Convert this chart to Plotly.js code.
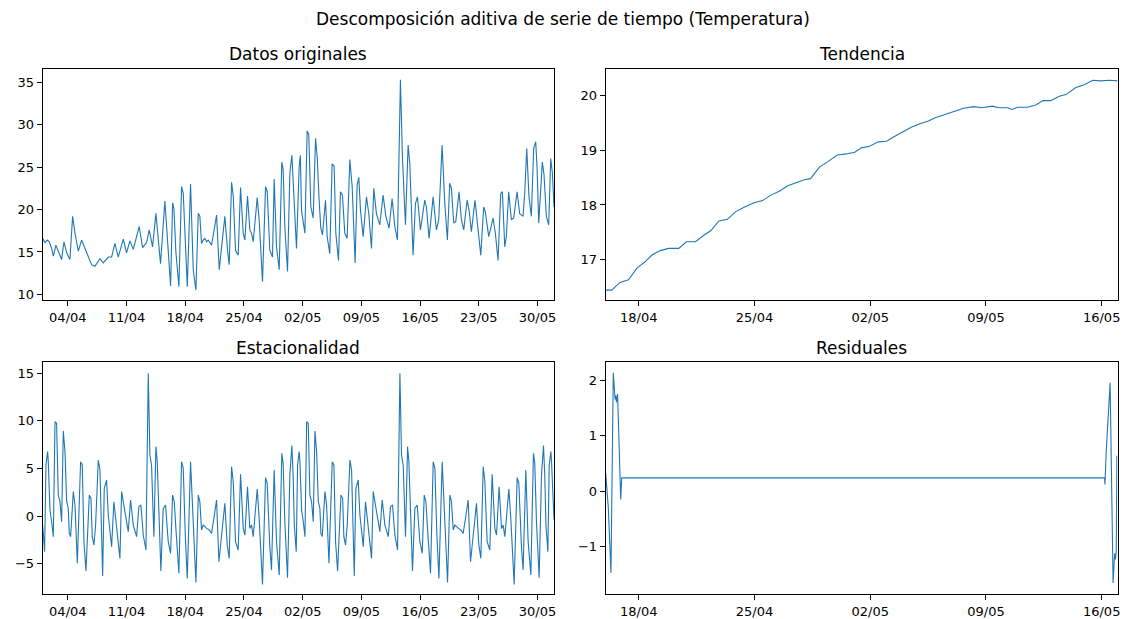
<!DOCTYPE html>
<html>
<head>
<meta charset="utf-8">
<script src="https://cdn.plot.ly/plotly-3.0.1.min.js"></script>
<style>
  html, body { margin: 0; padding: 0; background: #fff; }
  #chart { width: 1126px; height: 619px; }
</style>
</head>
<body>
<div id="chart"></div>
<script>
// Hourly temperature series, 01/04 to 31/05, decomposed additively (period 30 days).
// Times are given in days since 01/04 00:00.

const origDay = [0, 0.27, 0.55, 0.79, 1.07, 1.27, 1.58, 1.86, 2.26, 2.54, 2.86, 3.25, 3.57, 3.85, 4.25, 4.64, 5.04, 5.44, 5.83, 6.23, 6.83, 7.22, 7.82, 8.22, 8.61, 9.01, 9.61, 10.0, 10.4, 10.8, 11.51, 11.91, 12.39, 12.7, 13.1, 13.5, 14.05, 14.57, 15.25, 15.49, 15.65, 15.88, 16.24, 16.56, 16.76, 17.24, 17.63, 17.95, 18.27, 18.55, 18.74, 18.94, 19.14, 19.34, 19.54, 19.74, 20.13, 20.41, 20.73, 21.05, 21.25, 21.72, 22.04, 22.24, 22.52, 22.72, 22.99, 23.31, 23.59, 23.91, 24.11, 24.42, 24.7, 24.9, 25.1, 25.58, 25.81, 26.21, 26.57, 26.77, 27.08, 27.4, 27.6, 27.88, 28.2, 28.51, 28.67, 28.87, 29.19, 29.47, 29.71, 29.86, 30.26, 30.58, 30.72, 30.86, 31.26, 31.53, 31.73, 31.97, 32.25, 32.53, 32.73, 32.96, 33.16, 33.36, 33.72, 33.92, 34.23, 34.51, 34.75, 34.95, 35.27, 35.5, 35.74, 36.02, 36.3, 36.62, 36.9, 37.25, 37.49, 37.69, 37.89, 38.21, 38.6, 38.88, 39.2, 39.48, 39.79, 40.19, 40.59, 40.91, 41.3, 41.66, 41.98, 42.3, 42.65, 42.89, 43.25, 43.57, 43.77, 44.16, 44.44, 44.68, 45.04, 45.55, 45.75, 46.07, 46.55, 46.94, 47.22, 47.62, 47.94, 48.25, 48.53, 48.73, 49.01, 49.25, 49.64, 49.92, 50.2, 50.6, 50.84, 51.11, 51.55, 51.83, 52.23, 52.58, 52.78, 53.18, 53.42, 53.7, 53.97, 54.29, 54.61, 54.81, 55.09, 55.28, 55.56, 55.88, 56.16, 56.56, 56.87, 57.27, 57.47, 57.71, 57.98, 58.26, 58.54, 58.78, 58.94, 59.14, 59.57, 59.77, 60.05, 60.33, 60.57, 60.77, 60.96];
const origTemp = [16.6, 16.1, 16.4, 16.2, 15.4, 14.5, 15.8, 15.0, 14.1, 16.2, 14.9, 14.1, 19.2, 17.2, 15.1, 16.4, 15.4, 14.4, 13.5, 13.3, 14.2, 13.7, 14.4, 14.4, 16.0, 14.4, 16.5, 14.9, 16.3, 15.3, 18.0, 15.5, 16.1, 17.6, 15.6, 19.55, 13.6, 21.0, 11.0, 20.8, 20.1, 15.0, 10.9, 22.7, 21.9, 10.9, 23.0, 12.9, 10.5, 19.55, 19.2, 16.0, 16.4, 16.6, 16.2, 16.4, 15.8, 17.4, 19.35, 12.9, 15.0, 19.2, 15.2, 13.5, 23.2, 21.6, 15.2, 14.6, 22.6, 17.2, 16.4, 21.6, 17.6, 17.2, 16.2, 21.4, 18.8, 11.5, 22.7, 22.1, 15.2, 14.4, 23.6, 15.6, 12.9, 25.6, 24.7, 18.0, 12.7, 24.3, 26.4, 23.3, 15.4, 25.1, 26.4, 19.9, 17.2, 29.3, 28.8, 20.3, 19.0, 28.4, 26.2, 21.1, 17.8, 17.0, 21.1, 16.8, 14.8, 25.4, 25.1, 17.2, 14.0, 22.1, 21.7, 17.2, 16.6, 25.9, 22.7, 13.7, 22.9, 23.8, 19.9, 16.8, 21.5, 19.5, 15.4, 22.5, 19.5, 18.2, 21.7, 19.2, 17.8, 21.3, 18.0, 16.4, 35.3, 26.2, 18.2, 27.6, 25.4, 14.6, 20.7, 21.5, 17.6, 21.1, 20.3, 16.6, 21.5, 17.6, 18.8, 27.6, 20.7, 16.4, 23.1, 22.5, 18.4, 18.6, 22.1, 18.8, 17.6, 21.1, 19.9, 17.4, 21.1, 18.4, 14.6, 20.3, 19.7, 16.8, 18.0, 19.0, 17.2, 14.0, 21.9, 22.1, 15.6, 16.8, 22.1, 18.8, 19.0, 22.1, 19.5, 19.2, 21.9, 27.2, 21.5, 19.2, 27.2, 28.0, 25.0, 18.4, 25.6, 24.1, 19.2, 18.2, 26.0, 24.3, 20.3];

// Trend and residuals start on 16/04 (day 15)
const trendStart = 15;
const trendDay = [0, 0.36, 0.87, 1.38, 1.89, 2.39, 2.8, 3.3, 3.81, 4.42, 4.88, 5.43, 5.94, 6.35, 6.85, 7.36, 7.87, 8.37, 8.98, 9.49, 9.99, 10.5, 11.01, 11.62, 12.02, 12.39, 12.93, 13.44, 14.01, 14.56, 15.06, 15.47, 15.97, 16.48, 16.99, 17.49, 18.0, 18.51, 19.01, 19.52, 19.93, 20.44, 21.05, 21.65, 22.26, 22.77, 23.38, 23.78, 24.29, 24.59, 24.9, 25.5, 26.01, 26.46, 26.92, 27.43, 27.84, 28.44, 28.95, 29.46, 29.96, 30.47, 30.96];
const trendVal = [16.45, 16.45, 16.59, 16.64, 16.85, 16.97, 17.09, 17.17, 17.21, 17.21, 17.33, 17.33, 17.45, 17.53, 17.71, 17.74, 17.88, 17.96, 18.04, 18.08, 18.18, 18.25, 18.35, 18.42, 18.46, 18.48, 18.69, 18.79, 18.91, 18.93, 18.96, 19.04, 19.07, 19.15, 19.16, 19.25, 19.33, 19.42, 19.48, 19.53, 19.59, 19.64, 19.70, 19.76, 19.79, 19.77, 19.80, 19.77, 19.77, 19.74, 19.78, 19.78, 19.82, 19.90, 19.90, 19.98, 20.01, 20.14, 20.19, 20.27, 20.26, 20.27, 20.26];

const seasDay = [0, 0.23, 0.39, 0.59, 0.67, 0.87, 1.07, 1.27, 1.47, 1.66, 1.86, 2.06, 2.26, 2.46, 2.66, 2.86, 3.05, 3.17, 3.33, 3.65, 3.85, 4.13, 4.52, 4.72, 4.92, 5.16, 5.56, 5.76, 5.91, 6.11, 6.31, 6.63, 6.83, 7.15, 7.34, 7.62, 7.82, 8.22, 8.49, 8.81, 9.21, 9.41, 9.61, 9.92, 10.2, 10.48, 10.8, 11.2, 11.47, 11.71, 11.99, 12.31, 12.59, 12.78, 12.98, 13.26, 13.5, 13.66, 13.9, 14.09, 14.37, 14.65, 14.97, 15.25, 15.49, 15.69, 15.88, 16.24, 16.56, 16.76, 17.0, 17.24, 17.63, 17.87, 18.27, 18.55, 18.74, 18.94, 19.14, 19.34, 19.54, 19.86, 20.13, 20.41, 20.73, 21.01, 21.25, 21.72, 22.0, 22.24, 22.52, 22.72, 22.99, 23.31, 23.59, 23.91, 24.11, 24.42, 24.7, 24.9, 25.1, 25.58, 25.81, 26.21, 26.57, 26.77, 27.08, 27.28, 27.6, 27.88, 28.2, 28.51, 28.67, 28.87, 29.19, 29.47, 29.71, 29.86,
  30.0, 30.23, 30.39, 30.59, 30.67, 30.87, 31.07, 31.27, 31.47, 31.66, 31.86, 32.06, 32.26, 32.46, 32.66, 32.86, 33.05, 33.17, 33.33, 33.65, 33.85, 34.13, 34.52, 34.72, 34.92, 35.16, 35.56, 35.76, 35.91, 36.11, 36.31, 36.63, 36.83, 37.15, 37.34, 37.62, 37.82, 38.22, 38.49, 38.81, 39.21, 39.41, 39.61, 39.92, 40.2, 40.48, 40.8, 41.2, 41.47, 41.71, 41.99, 42.31, 42.59, 42.78, 42.98, 43.26, 43.5, 43.66, 43.9, 44.09, 44.37, 44.65, 44.97, 45.25, 45.49, 45.69, 45.88, 46.24, 46.56, 46.76, 47.0, 47.24, 47.63, 47.87, 48.27, 48.55, 48.74, 48.94, 49.14, 49.34, 49.54, 49.86, 50.13, 50.41, 50.73, 51.01, 51.25, 51.72, 52.0, 52.24, 52.52, 52.72, 52.99, 53.31, 53.59, 53.91, 54.11, 54.42, 54.7, 54.9, 55.1, 55.58, 55.81, 56.21, 56.57, 56.77, 57.08, 57.28, 57.6, 57.88, 58.2, 58.51, 58.67, 58.87, 59.19, 59.47, 59.71, 59.86,
  60.0, 60.23, 60.39, 60.59, 60.67, 60.87, 60.96];
const seasVal = [-0.95, -3.75, 5.36, 6.76, 5.7, 0.63, -0.6, -2.17, 9.9, 9.73, 2.2, 1.5, -0.6, 8.93, 6.76, 1.5, 0.8, -1.82, -2.17, 2.56, 1.16, -4.97, 5.7, 5.36, -2.7, -5.78, 2.2, 1.86, -2.17, -3.05, -0.95, 5.88, 4.83, -6.3, 2.9, 3.78, 0.1, -3.22, 1.5, -0.95, -4.45, 2.56, 1.5, -0.6, -1.65, 1.68, -0.95, -2.17, 0.98, 1.16, -2.0, -3.57, 14.99, 6.4, 5.36, -2.17, 7.28, 5.7, -1.3, -5.78, 0.8, 1.16, -2.7, -3.92, 2.2, 1.5, -1.3, -6.02, 5.7, 5.0, -2.0, -6.55, 5.7, 0.46, -6.97, 2.2, 1.5, -1.47, -0.95, -1.12, -1.3, -1.47, -1.82, -0.25, 1.68, -4.8, -2.7, 1.33, -3.05, -4.45, 5.18, 3.6, -2.7, -3.57, 4.38, -1.3, -2.0, 3.08, -1.3, -0.95, -2.17, 2.84, -0.25, -7.18, 4.03, 3.43, -3.22, -5.67, 4.83, -2.7, -6.2, 6.58, 5.53, -0.6, -6.48, 4.3, 7.39, 4.3,
  -0.95, -3.75, 5.36, 6.76, 5.7, 0.63, -0.6, -2.17, 9.9, 9.73, 2.2, 1.5, -0.6, 8.93, 6.76, 1.5, 0.8, -1.82, -2.17, 2.56, 1.16, -4.97, 5.7, 5.36, -2.7, -5.78, 2.2, 1.86, -2.17, -3.05, -0.95, 5.88, 4.83, -6.3, 2.9, 3.78, 0.1, -3.22, 1.5, -0.95, -4.45, 2.56, 1.5, -0.6, -1.65, 1.68, -0.95, -2.17, 0.98, 1.16, -2.0, -3.57, 14.99, 6.4, 5.36, -2.17, 7.28, 5.7, -1.3, -5.78, 0.8, 1.16, -2.7, -3.92, 2.2, 1.5, -1.3, -6.02, 5.7, 5.0, -2.0, -6.55, 5.7, 0.46, -6.97, 2.2, 1.5, -1.47, -0.95, -1.12, -1.3, -1.47, -1.82, -0.25, 1.68, -4.8, -2.7, 1.33, -3.05, -4.45, 5.18, 3.6, -2.7, -3.57, 4.38, -1.3, -2.0, 3.08, -1.3, -0.95, -2.17, 2.84, -0.25, -7.18, 4.03, 3.43, -3.22, -5.67, 4.83, -2.7, -6.2, 6.58, 5.53, -0.6, -6.48, 4.3, 7.39, 4.3,
  -0.95, -3.75, 5.36, 6.76, 5.7, 0.63, -0.4];

const residDay = [0, 0.16, 0.32, 0.46, 0.57, 0.61, 0.65, 0.72, 0.91, 0.97, 30.17, 30.2, 30.27, 30.51, 30.69, 30.78, 30.83, 30.88, 30.92, 30.96];
const residVal = [0.33, -0.3, -1.47, 2.13, 1.65, 1.72, 1.6, 1.75, -0.15, 0.24, 0.24, 0.12, 0.69, 1.95, -1.65, -1.12, -1.23, -1.1, 0.63, 0.63];

const weeklyTickStart = '2023-04-04';
const dateFormat = '%d/%m';

const BASE = Date.UTC(2023, 3, 1);
function toDate(d) {
  return new Date(BASE + d * 86400000).toISOString().slice(0, 19).replace('T', ' ');
}

const lineStyle = { color: '#1f77b4', width: 1.1 };
const font = 'DejaVu Sans, sans-serif';

const traces = [
  { x: origDay.map(toDate), y: origTemp, xaxis: 'x', yaxis: 'y' },
  { x: trendDay.map(d => toDate(trendStart + d)), y: trendVal, xaxis: 'x2', yaxis: 'y2' },
  { x: seasDay.map(toDate), y: seasVal, xaxis: 'x3', yaxis: 'y3' },
  { x: residDay.map(d => toDate(trendStart + d)), y: residVal, xaxis: 'x4', yaxis: 'y4' }
].map(t => Object.assign(t, { type: 'scatter', mode: 'lines', line: lineStyle, hoverinfo: 'x+y' }));

const axisBase = {
  showline: true, mirror: true, linecolor: '#000', linewidth: 1,
  ticks: 'outside', ticklen: 5, tickwidth: 1, tickcolor: '#000',
  showgrid: false, zeroline: false,
  tickfont: { family: font, size: 13, color: '#000' }
};
function xAxis(domain, anchor, range) {
  return Object.assign({}, axisBase, {
    domain, anchor, type: 'date', range,
    tick0: weeklyTickStart, dtick: 7 * 86400000, tickformat: dateFormat
  });
}
function yAxis(domain, anchor, range, dtick) {
  return Object.assign({}, axisBase, { domain, anchor, range, dtick });
}

const leftX = [0.0379, 0.4920], rightX = [0.5379, 0.9925];
const topY = [0.5153, 0.8880], botY = [0.0404, 0.4147];
const fullRange = [toDate(origDay[0]), toDate(origDay[origDay.length - 1])];
const trendRange = [toDate(trendStart + trendDay[0]), toDate(trendStart + trendDay[trendDay.length - 1])];

const titleFont = { family: font, size: 17, color: '#000' };
function panelTitle(text, x, y) {
  return { text, x, y, xref: 'paper', yref: 'paper', xanchor: 'center', yanchor: 'middle', showarrow: false, font: titleFont };
}

const layout = {
  width: 1126, height: 619,
  margin: { l: 0, r: 0, t: 0, b: 0 },
  paper_bgcolor: '#fff', plot_bgcolor: '#fff',
  showlegend: false,
  xaxis: xAxis(leftX, 'y', fullRange),
  yaxis: yAxis(topY, 'x', [9.33, 36.53], 5),
  xaxis2: xAxis(rightX, 'y2', trendRange),
  yaxis2: yAxis(topY, 'x2', [16.27, 20.47], 1),
  xaxis3: xAxis(leftX, 'y3', fullRange),
  yaxis3: yAxis(botY, 'x3', [-8.19, 16.14], 5),
  xaxis4: xAxis(rightX, 'y4', trendRange),
  yaxis4: yAxis(botY, 'x4', [-1.85, 2.32], 1),
  annotations: [
    panelTitle('Descomposición aditiva de serie de tiempo (Temperatura)', 0.5, 0.9693),
    panelTitle('Datos originales', (leftX[0] + leftX[1]) / 2, 0.912),
    panelTitle('Tendencia', (rightX[0] + rightX[1]) / 2, 0.912),
    panelTitle('Estacionalidad', (leftX[0] + leftX[1]) / 2, 0.4378),
    panelTitle('Residuales', (rightX[0] + rightX[1]) / 2, 0.4378)
  ]
};

Plotly.newPlot('chart', traces, layout, { displayModeBar: false, staticPlot: true });
</script>
</body>
</html>
